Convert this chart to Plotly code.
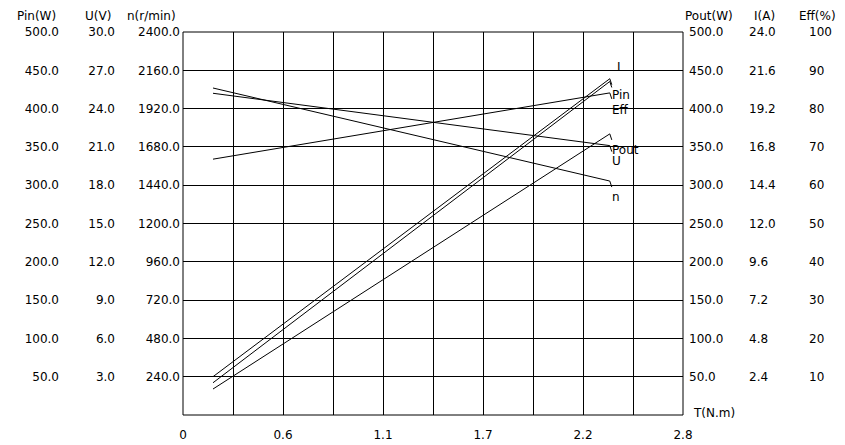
import plotly.graph_objects as go

# ---- data ----
torque = [0.168, 2.39]          # T (N.m)
pin_w = [50.0, 439.0]           # Pin (W)
u_v = [25.2, 21.1]              # U (V)
n_rpm = [2049.0, 1466.0]        # n (r/min)
pout_w = [33.9, 367.0]          # Pout (W)
i_a = [2.02, 20.9]              # I (A)
eff_pct = [66.8, 84.1]          # Eff (%)

x_grid_vals = [0, 0.28, 0.56, 0.84, 1.12, 1.4, 1.68, 1.96, 2.24, 2.52, 2.8]
x_tick_labels = ["0", "", "0.6", "", "1.1", "", "1.7", "", "2.2", "", "2.8"]

pin_ticks = [50, 100, 150, 200, 250, 300, 350, 400, 450, 500]
pin_labels = ["50.0", "100.0", "150.0", "200.0", "250.0", "300.0", "350.0", "400.0", "450.0", "500.0"]
u_ticks = [3, 6, 9, 12, 15, 18, 21, 24, 27, 30]
u_labels = ["3.0", "6.0", "9.0", "12.0", "15.0", "18.0", "21.0", "24.0", "27.0", "30.0"]
n_ticks = [240, 480, 720, 960, 1200, 1440, 1680, 1920, 2160, 2400]
n_labels = ["240.0", "480.0", "720.0", "960.0", "1200.0", "1440.0", "1680.0", "1920.0", "2160.0", "2400.0"]
pout_ticks = [50, 100, 150, 200, 250, 300, 350, 400, 450, 500]
pout_labels = ["50.0", "100.0", "150.0", "200.0", "250.0", "300.0", "350.0", "400.0", "450.0", "500.0"]
i_ticks = [2.4, 4.8, 7.2, 9.6, 12.0, 14.4, 16.8, 19.2, 21.6, 24.0]
i_labels = ["2.4", "4.8", "7.2", "9.6", "12.0", "14.4", "16.8", "19.2", "21.6", "24.0"]
eff_ticks = [10, 20, 30, 40, 50, 60, 70, 80, 90, 100]
eff_labels = ["10", "20", "30", "40", "50", "60", "70", "80", "90", "100"]

# page body has an 8px default margin: lay the figure out in page pixels minus it
OFF = 8
W, H = 845 - OFF, 445 - OFF
L, R, T, B = 183 - OFF, 683 - OFF, 32 - OFF, 415 - OFF
FONT = dict(family="DejaVu Sans", size=12, color="black")


def fx(page_px):
    return (page_px - OFF) / W


def fy(page_py):
    return (B - (page_py - OFF)) / (B - T)


fig = go.Figure()

series = [
    ("Pin", pin_w, "y", -16, 0),
    ("U", u_v, "y2", -15, 0),
    ("n", n_rpm, "y3", -16, 0),
    ("Pout", pout_w, "y4", -16, 0),
    ("I", i_a, "y5", 14, 5),
    ("Eff", eff_pct, "y6", -17, 0),
]

for name, vals, ax, dy, dx in series:
    fig.add_trace(go.Scatter(x=torque, y=vals, yaxis=ax, mode="lines",
                             line=dict(color="black", width=1),
                             showlegend=False, hoverinfo="skip"))
    fig.add_annotation(text=name, x=torque[-1], y=vals[-1], xref="x", yref=ax,
                       xanchor="left", yanchor="middle", xshift=dx, yshift=dy,
                       showarrow=False, font=FONT)
    fig.add_shape(type="line", xref="x", yref=ax,
                  xsizemode="pixel", xanchor=torque[-1], x0=0, x1=2,
                  ysizemode="pixel", yanchor=vals[-1], y0=0, y1=-6,
                  line=dict(color="black", width=1))


def yax(rng, ticks, labels, pos, side, overlay=True, grid=False):
    d = dict(range=rng, tickvals=ticks, ticktext=labels, anchor="free",
             position=pos, side=side, showgrid=grid, zeroline=False,
             showline=False, ticks="", tickfont=FONT, fixedrange=True,
             automargin=False)
    if grid:
        d.update(gridcolor="black", gridwidth=1)
    if overlay:
        d["overlaying"] = "y"
    return d


fig.update_layout(
    width=W, height=H,
    margin=dict(l=0, r=0, t=T, b=H - B, pad=0, autoexpand=False),
    paper_bgcolor="white", plot_bgcolor="white",
    font=FONT,
    xaxis=dict(domain=[L / W, R / W], range=[0, 2.8], tickvals=x_grid_vals,
               ticktext=x_tick_labels, showgrid=True, gridcolor="black",
               gridwidth=1, zeroline=False, showline=False, ticks="outside",
               ticklen=9, tickcolor="rgba(0,0,0,0)", tickfont=FONT, anchor="y",
               automargin=False, fixedrange=True),
    yaxis=yax([0, 500], pin_ticks, pin_labels, fx(59), "left", overlay=False, grid=True),
    yaxis2=yax([0, 30], u_ticks, u_labels, fx(115), "left"),
    yaxis3=yax([0, 2400], n_ticks, n_labels, fx(180), "left"),
    yaxis4=yax([0, 500], pout_ticks, pout_labels, fx(688), "right"),
    yaxis5=yax([0, 24], i_ticks, i_labels, fx(748), "right"),
    yaxis6=yax([0, 100], eff_ticks, eff_labels, fx(808), "right"),
)

fig.add_shape(type="rect", xref="x domain", yref="y domain", x0=0, x1=1, y0=0, y1=1,
              line=dict(color="black", width=1))

headers = [("Pin(W)", 15), ("U(V)", 83), ("n(r/min)", 125),
           ("Pout(W)", 683), ("I(A)", 752), ("Eff(%)", 797)]
for txt, xpix in headers:
    fig.add_annotation(text=txt, x=fx(xpix), y=fy(16), xref="paper", yref="paper",
                       xanchor="left", yanchor="middle", showarrow=False, font=FONT)

fig.add_annotation(text="T(N.m)", x=fx(691), y=fy(413), xref="paper", yref="paper",
                   xanchor="left", yanchor="middle", showarrow=False, font=FONT)

fig.write_html("out.html")
